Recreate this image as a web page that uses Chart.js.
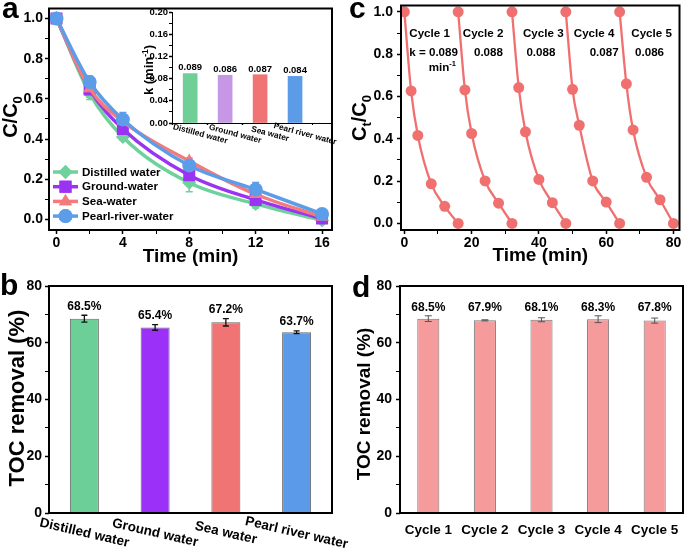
<!DOCTYPE html>
<html>
<head>
<meta charset="utf-8">
<script src="https://cdn.jsdelivr.net/npm/chart.js@4.4.0/dist/chart.umd.min.js"></script>
<style>
  body { margin: 0; background: #fff; }
  #wrap { position: relative; width: 685px; height: 553px; overflow: hidden; background: #fff; }
  canvas { position: absolute; }
</style>
</head>
<body>
<div id="wrap">
  <canvas id="chartA" width="345" height="270" style="left:0;top:0"></canvas>
  <canvas id="chartInset" width="215" height="150" style="left:125px;top:0"></canvas>
  <canvas id="chartB" width="360" height="283" style="left:0;top:270px"></canvas>
  <canvas id="chartC" width="345" height="270" style="left:340px;top:0"></canvas>
  <canvas id="chartD" width="345" height="283" style="left:340px;top:270px"></canvas>
</div>
<script>
// ---- panel a: C/C0 vs time in four water matrices
const timesA = [0, 2, 4, 8, 12, 16];
const seriesNames = ["Distilled water", "Ground-water", "Sea-water", "Pearl-river-water"];
const distilled = [1.0, 0.627, 0.41, 0.182, 0.077, -0.006];
const ground = [1.0, 0.647, 0.45, 0.22, 0.097, 0.004];
const sea = [1.0, 0.652, 0.488, 0.29, 0.125, 0.012];
const pearl = [1.0, 0.684, 0.497, 0.268, 0.149, 0.027];
const distilledErr = [0.01, 0.03, 0.015, 0.045, 0.02, 0.01];
const groundErr = [0.01, 0.035, 0.02, 0.03, 0.015, 0.01];
const seaErr = [0.025, 0.04, 0.02, 0.015, 0.02, 0.01];
const pearlErr = [0.01, 0.03, 0.035, 0.02, 0.035, 0.01];
const aXMajor = [0, 4, 8, 12, 16];
const aXMinor = [2, 6, 10, 14];
const aYMajor = [0, 0.2, 0.4, 0.6, 0.8, 1.0];
const aYMinor = [0.1, 0.3, 0.5, 0.7, 0.9];

// inset: rate constants
const kLabels = ["Distilled water", "Ground water", "Sea water", "Pearl river water"];
const kValues = [0.089, 0.086, 0.087, 0.084];
const kYMajor = [0, 0.04, 0.08, 0.12, 0.16, 0.20];
const kYMinor = [0.02, 0.06, 0.10, 0.14, 0.18];

// ---- panel b: TOC removal by water type
const tocBLabels = ["Distilled water", "Ground water", "Sea water", "Pearl river water"];
const tocB = [68.5, 65.4, 67.2, 63.7];
const tocBErr = [1.2, 1.0, 1.3, 0.5];

// ---- panel c: five cycles
const cycleNames = ["Cycle 1", "Cycle 2", "Cycle 3", "Cycle 4", "Cycle 5"];
const cycleTimes = [0, 2, 4, 8, 12, 16];
const cycle1 = [1.0, 0.626, 0.416, 0.187, 0.081, 0.0];
const cycle2 = [1.0, 0.631, 0.425, 0.201, 0.096, 0.0];
const cycle3 = [1.0, 0.642, 0.433, 0.208, 0.098, 0.0];
const cycle4 = [1.0, 0.634, 0.464, 0.201, 0.101, 0.0];
const cycle5 = [1.0, 0.66, 0.442, 0.218, 0.112, 0.0];
const cycleK = [0.089, 0.088, 0.088, 0.087, 0.086];
const cXMajor = [0, 20, 40, 60, 80];
const cXMinor = [10, 30, 50, 70];

// ---- panel d: TOC removal per cycle
const tocD = [68.5, 67.9, 68.1, 68.3, 67.8];
const tocDErr = [1.0, 0.2, 0.7, 1.2, 0.9];
const tocYMajor = [0, 20, 40, 60, 80];
const tocYMinor = [10, 30, 50, 70];

const FONT = "'Liberation Sans', Arial, Helvetica, sans-serif";
Chart.defaults.font.family = FONT;
Chart.defaults.font.weight = "bold";
Chart.defaults.color = "#000";
Chart.defaults.animation = false;
Chart.defaults.responsive = false;
Chart.defaults.plugins.legend.display = false;
Chart.defaults.plugins.tooltip.enabled = false;

const lineColors = ["#6fd19b", "#9a33f2", "#f47b7b", "#5c9dea"];
const pointStyles = ["rectRot", "rect", "triangle", "circle"];
const pointSizes = [7, 8.5, 7.5, 7];

function fixSize(size) {
  return (scale) => {
    if (scale.isHorizontal()) scale.height = size;
    else scale.width = size;
    scale.paddingLeft = scale.paddingRight = scale.paddingTop = scale.paddingBottom = 0;
  };
}

function setTicks(major, minor) {
  return (scale) => {
    scale.ticks = major.concat(minor).sort((p, q) => p - q).map((v) => ({ value: v }));
  };
}

function numAxis(o) {
  return {
    type: "linear",
    min: o.min,
    max: o.max,
    afterBuildTicks: setTicks(o.major, o.minor || []),
    afterFit: fixSize(o.size),
    ticks: {
      autoSkip: false,
      maxRotation: 0,
      font: { size: o.font || 14, weight: "bold" },
      padding: o.pad,
      callback: (v) => (o.major.includes(v) ? o.fmt(v) : "")
    },
    grid: {
      drawOnChartArea: false,
      tickLength: o.tick || 4,
      color: "#000",
      tickWidth: (c) => (c.tick && o.major.includes(c.tick.value) ? 1.5 : 1)
    },
    border: { display: !!o.border, color: "#000", width: 1 }
  };
}

function drawFrame(chart) {
  const { ctx, chartArea: a } = chart;
  ctx.save();
  ctx.strokeStyle = "#000";
  ctx.lineWidth = 2;
  ctx.strokeRect(a.left, a.top, a.right - a.left, a.bottom - a.top);
  ctx.restore();
}

// text with optional sub/superscript parts, centred on (x, y)
function richText(ctx, parts, x, y, size, angle) {
  ctx.save();
  ctx.translate(x, y);
  ctx.rotate(angle || 0);
  ctx.fillStyle = "#000";
  ctx.textAlign = "left";
  ctx.textBaseline = "alphabetic";
  const widths = parts.map((p) => {
    ctx.font = `bold ${p.k ? size * 0.65 : size}px ${FONT}`;
    return ctx.measureText(p.t).width;
  });
  let cx = -widths.reduce((s, w) => s + w, 0) / 2;
  parts.forEach((p, i) => {
    ctx.font = `bold ${p.k ? size * 0.65 : size}px ${FONT}`;
    const dy = p.k === "sub" ? size * 0.22 : p.k === "sup" ? -size * 0.38 : 0;
    ctx.fillText(p.t, cx, size * 0.36 + dy);
    cx += widths[i];
  });
  ctx.restore();
}

function panelLetter(ctx, letter, x, y) {
  ctx.save();
  ctx.font = `bold 30px ${FONT}`;
  ctx.fillStyle = "#000";
  ctx.textAlign = "left";
  ctx.textBaseline = "alphabetic";
  ctx.fillText(letter, x, y);
  ctx.restore();
}

function drawErrors(chart, color, width, cap) {
  const { ctx, scales } = chart;
  chart.data.datasets.forEach((ds, i) => {
    if (!ds.errors) return;
    const meta = chart.getDatasetMeta(i);
    ctx.save();
    ctx.strokeStyle = color || ds.borderColor;
    ctx.lineWidth = width;
    meta.data.forEach((el, j) => {
      const raw = ds.data[j];
      const val = typeof raw === "object" ? raw.y : raw;
      const top = scales.y.getPixelForValue(val + ds.errors[j]);
      const bot = scales.y.getPixelForValue(val - ds.errors[j]);
      ctx.beginPath();
      ctx.moveTo(el.x, top); ctx.lineTo(el.x, bot);
      ctx.moveTo(el.x - cap, top); ctx.lineTo(el.x + cap, top);
      ctx.moveTo(el.x - cap, bot); ctx.lineTo(el.x + cap, bot);
      ctx.stroke();
    });
    ctx.restore();
  });
}

// ================= panel a =================
const seriesA = [distilled, ground, sea, pearl];
const errA = [distilledErr, groundErr, seaErr, pearlErr];

const decorA = {
  id: "decorA",
  beforeDatasetsDraw(chart) { drawErrors(chart, null, 1.5, 3.5); },
  afterDraw(chart) {
    const { ctx, chartArea: a } = chart;
    drawFrame(chart);
    ctx.save();
    chart.data.datasets.forEach((ds, i) => {
      const y = 172 + i * 14.7;
      ctx.strokeStyle = ds.borderColor;
      ctx.lineWidth = 3.5;
      ctx.beginPath(); ctx.moveTo(53, y); ctx.lineTo(78, y); ctx.stroke();
      ctx.fillStyle = ds.backgroundColor;
      Chart.helpers.drawPoint(ctx, { pointStyle: ds.pointStyle, radius: ds.pointRadius, rotation: 0, borderWidth: 0 }, 65.5, y);
      ctx.fill();
      ctx.fillStyle = "#000";
      ctx.font = `bold 11.6px ${FONT}`;
      ctx.textBaseline = "middle";
      ctx.fillText(ds.label, 82, y + 0.5);
    });
    ctx.restore();
    richText(ctx, [{ t: "Time (min)" }], (a.left + a.right) / 2, 255, 19, 0);
    richText(ctx, [{ t: "C/C" }, { t: "0", k: "sub" }], 10, 117, 20, -Math.PI / 2);
    panelLetter(ctx, "a", 2, 18);
  }
};

new Chart(document.getElementById("chartA"), {
  type: "line",
  data: {
    datasets: seriesA.map((vals, i) => ({
      label: seriesNames[i],
      data: vals.map((y, j) => ({ x: timesA[j], y })),
      errors: errA[i],
      borderColor: lineColors[i],
      backgroundColor: lineColors[i],
      borderWidth: 3.5,
      pointStyle: pointStyles[i],
      pointRadius: pointSizes[i],
      pointBorderWidth: 0,
      cubicInterpolationMode: "monotone",
      order: 3 - i
    }))
  },
  options: {
    layout: { padding: { top: 3, right: 13, left: 0, bottom: 0 } },
    scales: {
      x: numAxis({ min: -0.45, max: 16.6, major: aXMajor, minor: aXMinor, size: 40, pad: 1, fmt: (v) => String(v) }),
      y: numAxis({ min: -0.053, max: 1.05, major: aYMajor, minor: aYMinor, size: 49, pad: 2, fmt: (v) => v.toFixed(1) })
    }
  },
  plugins: [decorA]
});

// ================= inset =================
const decorInset = {
  id: "decorInset",
  afterDatasetsDraw(chart) {
    const { ctx, scales, chartArea: a } = chart;
    ctx.save();
    ctx.fillStyle = "#000";
    kValues.forEach((v, i) => {
      const x = scales.x.getPixelForValue(i);
      ctx.font = `bold 9.5px ${FONT}`;
      ctx.textAlign = "center";
      ctx.textBaseline = "bottom";
      ctx.fillText(v.toFixed(3), x, scales.y.getPixelForValue(v) - 1);
      ctx.save();
      ctx.translate(x + 10, a.bottom + 11);
      ctx.rotate(15 * Math.PI / 180);
      ctx.font = `bold 8.3px ${FONT}`;
      ctx.textBaseline = "middle";
      ctx.fillText(kLabels[i], 0, 0);
      ctx.restore();
    });
    ctx.restore();
    richText(ctx, [{ t: "k (min" }, { t: "-1", k: "sup" }, { t: ")" }], 23, 70, 13, -Math.PI / 2);
  }
};

const insetX = numAxis({ min: -0.52, max: 4.0, major: [0, 1, 2, 3], minor: [], size: 27, pad: 0, tick: 2, border: true, fmt: () => "" });
insetX.offset = false;
insetX.ticks.display = false;

new Chart(document.getElementById("chartInset"), {
  type: "bar",
  data: {
    datasets: [{
      data: kValues.map((v, i) => ({ x: i, y: v })),
      backgroundColor: ["#6fcf97", "#c597e5", "#f07474", "#5b9be8"],
      barThickness: 14
    }]
  },
  options: {
    layout: { padding: { top: 12, right: 10, left: 0, bottom: 0 } },
    scales: {
      x: insetX,
      y: numAxis({ min: 0, max: 0.2, major: kYMajor, minor: kYMinor, size: 47, pad: 1, tick: 3, font: 9.5, border: true, fmt: (v) => v.toFixed(2) })
    }
  },
  plugins: [decorInset]
});

// ================= panel b =================
const decorB = {
  id: "decorB",
  afterDatasetsDraw(chart) {
    const { ctx, scales, chartArea: a } = chart;
    drawErrors(chart, "#111", 1.3, 3);
    ctx.save();
    ctx.fillStyle = "#000";
    tocB.forEach((v, i) => {
      const x = scales.x.getPixelForValue(i);
      ctx.font = `bold 12px ${FONT}`;
      ctx.textAlign = "center";
      ctx.textBaseline = "bottom";
      ctx.fillText(v.toFixed(1) + "%", x, scales.y.getPixelForValue(v + tocBErr[i]) - 3);
      ctx.save();
      ctx.translate(x, a.bottom + 20);
      ctx.rotate(13 * Math.PI / 180);
      ctx.font = `bold 13.5px ${FONT}`;
      ctx.textBaseline = "middle";
      ctx.fillText(tocBLabels[i], 0, 0);
      ctx.restore();
    });
    ctx.restore();
  },
  afterDraw(chart) {
    drawFrame(chart);
    richText(chart.ctx, [{ t: "TOC removal (%)" }], 16, 128, 22, -Math.PI / 2);
    panelLetter(chart.ctx, "b", 0, 25);
  }
};

new Chart(document.getElementById("chartB"), {
  type: "bar",
  data: {
    labels: tocBLabels,
    datasets: [{
      data: tocB,
      errors: tocBErr,
      backgroundColor: ["#6ccf98", "#9b30f8", "#f07474", "#5b9ae8"],
      borderColor: "#666",
      borderWidth: 1,
      barPercentage: 0.41,
      categoryPercentage: 1
    }]
  },
  options: {
    layout: { padding: { top: 16, right: 28, left: 0, bottom: 0 } },
    scales: {
      x: { afterFit: fixSize(40), ticks: { display: false }, grid: { display: false }, border: { display: false } },
      y: numAxis({ min: 0, max: 80, major: tocYMajor, minor: tocYMinor, size: 49, pad: 3, fmt: (v) => String(v) })
    }
  },
  plugins: [decorB]
});

// ================= panel c =================
const cycles = [cycle1, cycle2, cycle3, cycle4, cycle5];
const cycleLabelX = [7.5, 23.4, 41.3, 56.4, 73.5];
const cycleKX = [8.7, 25, 40.6, 59.4, 72.9];

const decorC = {
  id: "decorC",
  afterDraw(chart) {
    const { ctx, scales: s, chartArea: a } = chart;
    drawFrame(chart);
    cycleNames.forEach((name, i) => {
      richText(ctx, [{ t: name }], s.x.getPixelForValue(cycleLabelX[i]), s.y.getPixelForValue(0.9), 11.6, 0);
      const k = cycleK[i].toFixed(3);
      richText(ctx, [{ t: i === 0 ? "k = " + k : k }], s.x.getPixelForValue(cycleKX[i]), s.y.getPixelForValue(0.81), 11.6, 0);
    });
    richText(ctx, [{ t: "min" }, { t: "-1", k: "sup" }], s.x.getPixelForValue(11.3), s.y.getPixelForValue(0.742), 11.6, 0);
    richText(ctx, [{ t: "Time (min)" }], (a.left + a.right) / 2, 254, 19, 0);
    richText(ctx, [{ t: "C" }, { t: "t", k: "sub" }, { t: "/C" }, { t: "0", k: "sub" }], 19, 118, 20, -Math.PI / 2);
    panelLetter(ctx, "c", 9, 18);
  }
};

new Chart(document.getElementById("chartC"), {
  type: "line",
  data: {
    datasets: cycles.map((vals, i) => ({
      label: cycleNames[i],
      data: vals.map((y, j) => ({ x: cycleTimes[j] + 16 * i, y })),
      borderColor: "#f07070",
      backgroundColor: "#f07070",
      borderWidth: 2.3,
      pointRadius: 5.5,
      pointBorderWidth: 0,
      cubicInterpolationMode: "monotone"
    }))
  },
  options: {
    layout: { padding: { top: 3, right: 2, left: 0, bottom: 0 } },
    scales: {
      x: numAxis({ min: -1, max: 81.8, major: cXMajor, minor: cXMinor, size: 40, pad: 1, fmt: (v) => String(v) }),
      y: numAxis({ min: -0.031, max: 1.03, major: aYMajor, minor: aYMinor, size: 61, pad: 4, fmt: (v) => v.toFixed(1) })
    }
  },
  plugins: [decorC]
});

// ================= panel d =================
const decorD = {
  id: "decorD",
  afterDatasetsDraw(chart) {
    const { ctx, scales } = chart;
    drawErrors(chart, "#555", 1, 3.5);
    ctx.save();
    ctx.fillStyle = "#000";
    ctx.font = `bold 12px ${FONT}`;
    ctx.textAlign = "center";
    ctx.textBaseline = "middle";
    tocD.forEach((v, i) => {
      ctx.fillText(v.toFixed(1) + "%", scales.x.getPixelForValue(i), scales.y.getPixelForValue(72.4));
    });
    ctx.restore();
  },
  afterDraw(chart) {
    drawFrame(chart);
    richText(chart.ctx, [{ t: "TOC removal (%)" }], 23, 134, 19, -Math.PI / 2);
    panelLetter(chart.ctx, "d", 12, 27);
  }
};

new Chart(document.getElementById("chartD"), {
  type: "bar",
  data: {
    labels: cycleNames,
    datasets: [{
      data: tocD,
      errors: tocDErr,
      backgroundColor: "#f59b9b",
      borderColor: "#777",
      borderWidth: 1,
      barPercentage: 0.39,
      categoryPercentage: 1
    }]
  },
  options: {
    layout: { padding: { top: 16, right: 2, left: 0, bottom: 0 } },
    scales: {
      x: {
        afterFit: fixSize(40),
        ticks: { font: { size: 13.5, weight: "bold" }, padding: 1, maxRotation: 0 },
        grid: { display: false },
        border: { display: false }
      },
      y: numAxis({ min: 0, max: 80, major: tocYMajor, minor: tocYMinor, size: 60, pad: 4, fmt: (v) => String(v) })
    }
  },
  plugins: [decorD]
});
</script>
</body>
</html>
